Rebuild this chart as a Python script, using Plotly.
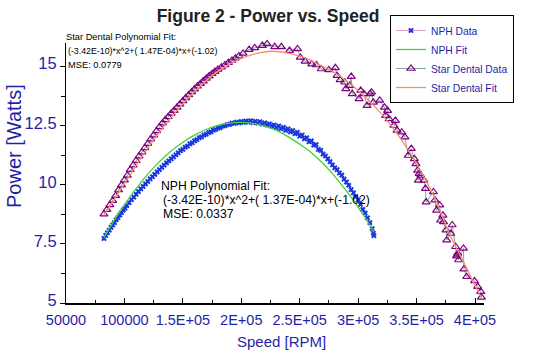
import plotly.graph_objects as go

# ---------------- data ----------------
nph_speed = [82500, 84000, 85500, 87000, 88500, 90000, 91500, 93000, 94500, 96000, 97500, 99000,
             100500, 102000, 104000, 106000, 108000, 110000, 112000, 114000, 116000, 118000, 120000,
             122000, 124000, 126000, 128000, 130000, 132000, 134000, 136000, 138000, 140000, 142000,
             144000, 146000, 148000, 150000, 152000, 154000, 156000, 158000, 160000, 162000, 164000,
             166000, 168000, 170000, 172000, 174000, 176000, 178000, 180000, 182000, 184000, 186000,
             188000, 190000, 192000, 194000, 196000, 198000, 200000, 202000, 204000, 206000, 208000,
             210000, 212000, 214000, 216000, 218000, 220000, 222000, 224000, 226000, 228000, 230000,
             232000, 234000, 236000, 238000, 240000, 242000, 244000, 246000, 248000, 250000, 252000,
             254000, 256000, 258000, 260000, 262000, 264000, 266000, 268000, 270000, 272000, 274000,
             276000, 278000, 280000, 282000, 284000, 286000, 288000, 290000, 292000, 294000, 296000,
             298000, 300000, 302000, 304000, 306000, 308000, 310000, 312000, 313000, 313500]
nph_power = [7.73, 7.86, 7.97, 8.08, 8.20, 8.30, 8.40, 8.52, 8.61, 8.72, 8.82, 8.93,
             9.01, 9.12, 9.24, 9.37, 9.48, 9.60, 9.71, 9.83, 9.93, 10.04, 10.14,
             10.25, 10.34, 10.44, 10.55, 10.64, 10.74, 10.83, 10.93, 11.01, 11.10, 11.18,
             11.27, 11.35, 11.44, 11.50, 11.59, 11.64, 11.73, 11.78, 11.86, 11.91, 11.99,
             12.03, 12.10, 12.14, 12.21, 12.24, 12.31, 12.34, 12.40, 12.42, 12.48, 12.50,
             12.55, 12.56, 12.61, 12.60, 12.65, 12.62, 12.68, 12.64, 12.70, 12.65, 12.71,
             12.63, 12.69, 12.61, 12.67, 12.57, 12.62, 12.53, 12.58, 12.48, 12.53, 12.42,
             12.49, 12.37, 12.43, 12.30, 12.37, 12.24, 12.30, 12.16, 12.22, 12.06, 12.10,
             11.94, 11.99, 11.82, 11.86, 11.68, 11.70, 11.50, 11.46, 11.30, 11.22, 11.10,
             10.98, 10.84, 10.72, 10.64, 10.50, 10.41, 10.24, 10.12, 9.98, 9.80, 9.66,
             9.50, 9.36, 9.17, 8.96, 8.80, 8.60, 8.40, 8.15, 7.95, 7.85]

nph_fit_speed = [82500, 90000, 100000, 110000, 120000, 130000, 140000, 150000, 160000, 170000,
                 180000, 190000, 200000, 210000, 220000, 230000, 240000, 250000, 260000, 270000,
                 280000, 290000, 300000, 310000, 313500]
nph_fit_power = [7.76, 8.40, 9.15, 9.84, 10.45, 10.98, 11.43, 11.80, 12.10, 12.34,
                 12.51, 12.61, 12.64, 12.60, 12.48, 12.30, 12.04, 11.72, 11.36, 10.90,
                 10.36, 9.74, 9.06, 8.30, 8.00]

star_speed = [82500, 85000, 87500, 90000, 92500, 95000, 97500, 100000, 102500, 105000, 107500,
              110000, 112500, 115000, 117500, 120000, 122500, 125000, 127500, 130000, 132500,
              135000, 137500, 140000, 142500, 145000, 147500, 150000, 152500, 155000, 157500,
              160000, 162500, 165000, 167500, 170000, 172500, 175000, 177500, 180000, 183000,
              186000, 189000, 192000, 195000, 198000,
              201500, 206700, 211500, 218000, 222100, 228600, 234300, 241300, 248100, 250500,
              254600, 260300, 264300, 268400, 274900, 280500, 281900, 284600, 288600, 289500,
              292700, 294100, 295000, 300800, 302200, 304900, 307600, 310300, 311400, 313000,
              318400, 322500, 323500, 325200, 326500, 330600, 331900, 333300, 337300, 340000,
              342800, 345500, 348100, 349500, 350900, 351500, 352200, 353600, 356300, 357600,
              358200, 364400, 365700, 367100, 369800, 370500, 372500, 373000, 375200, 375800,
              379300, 380500, 383400, 384200, 384700, 385200, 386000, 390100, 390500, 392800,
              399600, 402300, 405000, 405500]
star_power = [8.76, 8.95, 9.15, 9.33, 9.54, 9.78, 9.99, 10.20, 10.40, 10.64, 10.83,
              11.02, 11.21, 11.38, 11.56, 11.74, 11.93, 12.10, 12.28, 12.45, 12.61,
              12.75, 12.88, 13.02, 13.14, 13.28, 13.41, 13.55, 13.68, 13.80, 13.93,
              14.05, 14.17, 14.28, 14.39, 14.50, 14.60, 14.70, 14.79, 14.88, 14.98,
              15.07, 15.17, 15.26, 15.36, 15.45,
              15.56, 15.72, 15.79, 15.89, 15.96, 15.84, 15.84, 15.68, 15.75, 15.39,
              15.22, 15.11, 15.07, 14.90, 14.86, 14.95, 14.62, 14.44, 14.34, 14.06,
              14.20, 14.58, 13.85, 13.64, 13.99, 13.85, 13.35, 13.85, 13.92, 13.49,
              13.57, 13.28, 12.93, 13.14, 12.79, 12.51, 12.72, 12.30, 12.23, 12.02,
              11.24, 11.53, 11.10, 10.89, 10.61, 10.19, 10.47, 10.40, 10.19, 9.84,
              9.27, 9.70, 9.35, 8.92, 9.14, 8.50, 8.71, 8.43, 8.08, 7.66,
              7.94, 8.30, 7.38, 6.98, 7.03, 7.10, 6.82, 7.31, 6.43, 6.11,
              5.93, 5.69, 5.48, 5.24]

star_fit_speed = [82500, 100000, 120000, 140000, 160000, 180000, 200000, 215000, 226000, 240000,
                  253500, 265000, 280000, 295000, 307500, 320000, 335000, 350000, 365000, 378000,
                  392000, 405500]
star_fit_power = [8.72, 10.05, 11.55, 12.85, 13.95, 14.80, 15.35, 15.58, 15.65, 15.57,
                  15.39, 15.12, 14.74, 14.20, 13.64, 13.00, 12.05, 10.90, 9.50, 7.95,
                  6.55, 5.20]

x_tick_vals = [50000, 100000, 150000, 200000, 250000, 300000, 350000, 400000]
x_tick_text = ["50000", "100000", "1.5E+05", "2E+05", "2.5E+05", "3E+05", "3.5E+05", "4E+05"]
y_tick_vals = [5, 7.5, 10, 12.5, 15]
y_tick_text = ["5", "7.5", "10", "12.5", "15"]

star_note = ["Star Dental Polynomial Fit:", "(-3.42E-10)*x^2+( 1.47E-04)*x+(-1.02)", "MSE: 0.0779"]
nph_note = ["NPH Polynomial Fit:", "(-3.42E-10)*x^2+( 1.37E-04)*x+(-1.02)", "MSE: 0.0337"]

# ---------------- figure ----------------
FONT = "Liberation Sans, Arial, sans-serif"
BLUE = "#1f1fa8"

fig = go.Figure()
fig.add_trace(go.Scatter(x=nph_speed, y=nph_power, mode="lines+markers", name="NPH Data",
                         line=dict(color="#e0a0d0", width=1),
                         marker=dict(symbol="x", size=5, color="#1a36e0", line=dict(width=0))))
fig.add_trace(go.Scatter(x=nph_fit_speed, y=nph_fit_power, mode="lines", name="NPH Fit",
                         line=dict(color="#3cd23c", width=1.3, shape="spline")))
fig.add_trace(go.Scatter(x=star_speed, y=star_power, mode="lines+markers", name="Star Dental Data",
                         line=dict(color="#7fa8a0", width=1), cliponaxis=False,
                         marker=dict(symbol="triangle-up-open", size=7, color="#800080",
                                     line=dict(width=1.2, color="#800080"))))
fig.add_trace(go.Scatter(x=star_fit_speed, y=star_fit_power, mode="lines", name="Star Dental Fit",
                         line=dict(color="#f29270", width=1.3, shape="spline")))

L, R, T, B = 66, 61, 43, 51
W, H = 545, 354
pw, ph = W - L - R, H - T - B

def px(xp):
    return (xp - L) / pw

def py(yp):
    return (H - B - yp) / ph

fig.update_layout(
    width=W, height=H, autosize=False,
    margin=dict(l=L, r=R, t=T, b=B),
    paper_bgcolor="white", plot_bgcolor="white",
    font=dict(family=FONT, color=BLUE),
    title=dict(text="<b>Figure 2 - Power vs. Speed</b>", x=268 / W, xref="container", xanchor="center",
               y=1 - 16 / H, yref="container", yanchor="middle",
               font=dict(family=FONT, size=17.5, color="#222222")),
    showlegend=True,
    legend=dict(x=px(390), y=py(15), xanchor="left", yanchor="top",
                bgcolor="white", bordercolor="black", borderwidth=1,
                font=dict(family=FONT, size=10.3, color=BLUE), tracegroupgap=0),
    xaxis=dict(range=[50000, 407700], showgrid=False, zeroline=False,
               showline=True, linecolor="black", linewidth=2,
               tickmode="array", tickvals=x_tick_vals, ticktext=x_tick_text,
               ticks="inside", ticklen=5, tickcolor="black", tickwidth=1,
               minor=dict(ticks="inside", ticklen=3, dtick=25000, tick0=50000, tickcolor="black"),
               ticklabelstandoff=3,
               tickfont=dict(family=FONT, size=14.5, color=BLUE)),
    yaxis=dict(range=[5, 16], showgrid=False, zeroline=False,
               showline=True, linecolor="black", linewidth=1.2,
               tickmode="array", tickvals=y_tick_vals, ticktext=y_tick_text,
               ticks="outside", ticklen=5, tickcolor="black", tickwidth=1,
               minor=dict(ticks="outside", ticklen=4, dtick=1.25, tick0=5, tickcolor="black"),
               ticklabelshift=-3,
               tickfont=dict(family=FONT, size=16.5, color=BLUE)),
)

# axis titles
fig.add_annotation(xref="paper", yref="paper", x=px(281), y=py(341), xanchor="center", yanchor="middle",
                   showarrow=False, text="Speed [RPM]", font=dict(family=FONT, size=15, color=BLUE))
fig.add_annotation(xref="paper", yref="paper", x=px(14), y=py(146), xanchor="center", yanchor="middle",
                   showarrow=False, textangle=-90, text="Power [Watts]",
                   font=dict(family=FONT, size=20, color=BLUE))

# fit notes, one line each
star_sizes = [9.3, 8.8, 9.3]
for line, xs, ys, fs in zip(star_note, [68, 70, 70], [37, 51, 65], star_sizes):
    fig.add_annotation(xref="paper", yref="paper", x=px(xs - 4), y=py(ys), xanchor="left",
                       yanchor="middle", align="left", showarrow=False, text=line,
                       font=dict(family=FONT, size=fs, color="black"))
for line, xs, ys in zip(nph_note, [161, 163, 163], [186, 200, 214]):
    fig.add_annotation(xref="paper", yref="paper", x=px(xs - 2), y=py(ys), xanchor="left",
                       yanchor="middle", align="left", showarrow=False, text=line,
                       font=dict(family=FONT, size=12.2, color="black"))

fig.write_html("out.html")
